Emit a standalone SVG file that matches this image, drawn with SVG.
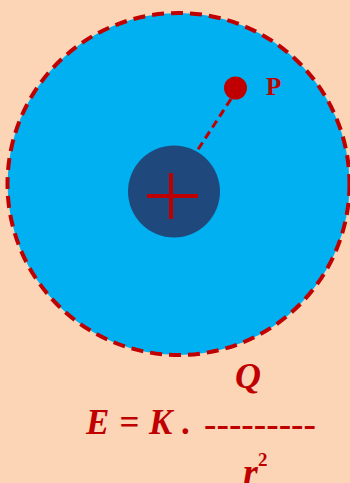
<svg xmlns="http://www.w3.org/2000/svg" width="350" height="483" viewBox="0 0 350 483">
<style>
.red{fill:#C00000}
.t{font-family:"Liberation Serif",serif;font-weight:bold;fill:#C00000}
.i{font-style:italic}
</style>
<rect width="350" height="483" fill="#FBD5B5"/>
<g id="field">
<circle cx="178.5" cy="184" r="171" fill="#00B0F0" stroke="#C00000" stroke-width="4" stroke-dasharray="12 7"/>
</g>
<g id="connectors">
<line x1="231" y1="99" x2="197" y2="151" stroke="#C00000" stroke-width="3" stroke-dasharray="8 5"/>
</g>
<g id="charge">
<circle cx="174" cy="191.5" r="46" fill="#1F497D"/>
<line x1="147" y1="196" x2="198" y2="196" stroke="#C00000" stroke-width="4"/>
<line x1="171" y1="173" x2="171" y2="219" stroke="#C00000" stroke-width="4"/>
</g>
<g id="point">
<circle cx="235.5" cy="88" r="11.5" class="red"/>
<text x="266" y="95" class="t" font-size="25">P</text>
</g>
<g id="formula">
<text x="235" y="388" class="t i" font-size="36">Q</text>
<text x="86" y="434" class="t i" font-size="35" textLength="105" lengthAdjust="spacing">E = K .</text>
<text x="204" y="436" class="t" font-size="36" textLength="112" lengthAdjust="spacingAndGlyphs">---------</text>
<text x="243" y="485" class="t i" font-size="38">r</text>
<text x="258" y="466" class="t" font-size="19">2</text>
</g>
</svg>
